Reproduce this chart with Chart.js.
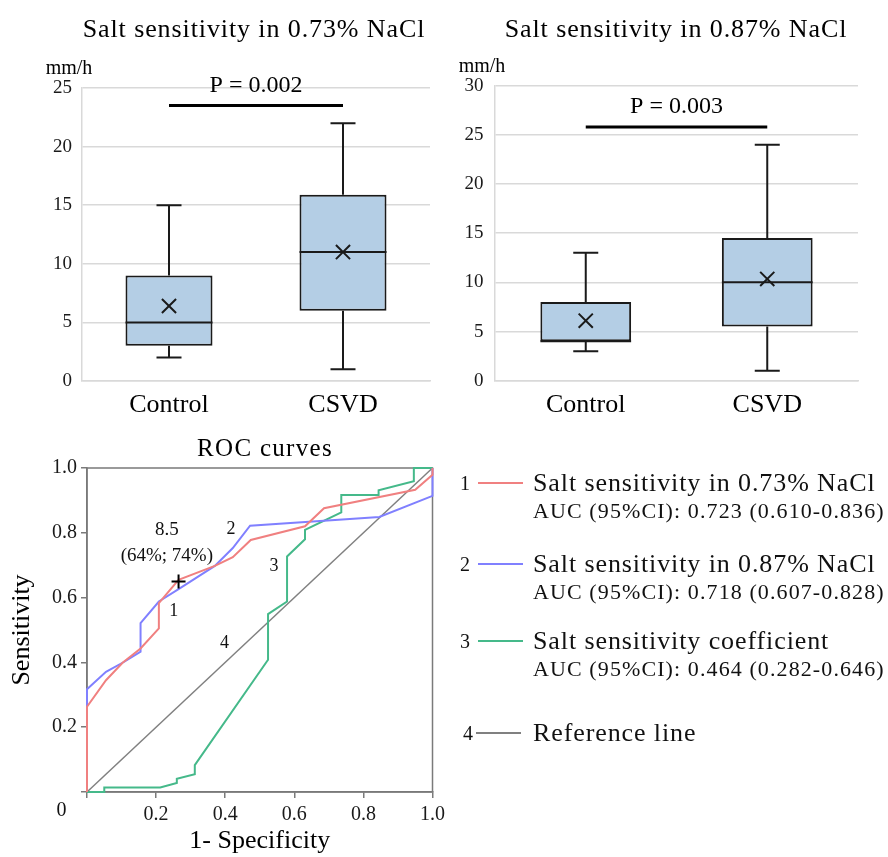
<!DOCTYPE html>
<html>
<head>
<meta charset="utf-8">
<title>Salt sensitivity and ROC curves</title>
<script src="https://cdn.jsdelivr.net/npm/chart.js@4.4.0/dist/chart.umd.min.js"></script>
<style>
  html, body { margin: 0; padding: 0; background: #fff; }
  body { width: 888px; height: 857px; position: relative; overflow: hidden;
         font-family: 'Liberation Serif', 'Times New Roman', serif; color: #111; }
  .panel { position: absolute; }
  .title { position: absolute; white-space: nowrap; line-height: 1; color: #000;
           transform: translateX(-50%); }
  #legend { position: absolute; left: 0; top: 0; width: 888px; height: 857px; pointer-events: none; }
  #legend .t { position: absolute; white-space: nowrap; line-height: 1; }
  #legend .sw { position: absolute; height: 2px; }
</style>
</head>
<body>
<div class="panel" style="left:0;top:0;width:444px;height:430px"><canvas id="box73"></canvas></div>
<div class="panel" style="left:444px;top:0;width:444px;height:430px"><canvas id="box87"></canvas></div>
<div class="panel" style="left:0;top:430px;width:450px;height:427px"><canvas id="roc"></canvas></div>
<div class="title" style="left:254px;top:16px;font-size:26px;letter-spacing:0.9px">Salt sensitivity in 0.73% NaCl</div>
<div class="title" style="left:676px;top:16px;font-size:26px;letter-spacing:0.9px">Salt sensitivity in 0.87% NaCl</div>
<div class="title" style="left:265px;top:435px;font-size:25px;letter-spacing:1.3px">ROC curves</div>
<div id="legend"></div>

<script>
// ─── Data ────────────────────────────────────────────────────────────────
const groups = ['Control', 'CSVD'];

// 0.73% NaCl (mm/h)
const nacl73Min    = [2, 1];
const nacl73Q1     = [3, 6];
const nacl73Median = [5, 11];
const nacl73Q3     = [9, 15.9];
const nacl73Max    = [15, 22];
const nacl73Mean   = [6.4, 11];
const nacl73Ticks  = [0, 5, 10, 15, 20, 25];
const nacl73PText  = 'P = 0.002';
const nacl73PLevel = 23.5;

// 0.87% NaCl (mm/h)
const nacl87Min    = [3, 1];
const nacl87Q1     = [4, 5.5];
const nacl87Median = [4, 10];
const nacl87Q3     = [8, 14.5];
const nacl87Max    = [13, 24];
const nacl87Mean   = [6.1, 10.35];
const nacl87Ticks  = [0, 5, 10, 15, 20, 25, 30];
const nacl87PText  = 'P = 0.003';
const nacl87PLevel = 25.8;

// ROC curves (1 - specificity, sensitivity)
const roc1X = [0, 0, 0.055, 0.103, 0.155, 0.208, 0.208, 0.265, 0.37, 0.422, 0.474, 0.631, 0.686, 0.95, 1, 1];
const roc1Y = [0, 0.263, 0.345, 0.399, 0.443, 0.505, 0.583, 0.655, 0.698, 0.725, 0.778, 0.82, 0.876, 0.933, 0.979, 1];
const roc2X = [0, 0, 0.055, 0.108, 0.155, 0.155, 0.208, 0.265, 0.37, 0.422, 0.472, 0.846, 1, 1];
const roc2Y = [0, 0.317, 0.371, 0.402, 0.433, 0.521, 0.588, 0.626, 0.698, 0.753, 0.822, 0.849, 0.914, 1];
const roc3X = [0, 0.05, 0.05, 0.212, 0.26, 0.26, 0.312, 0.312, 0.524, 0.524, 0.579, 0.579, 0.631, 0.631, 0.736, 0.736, 0.844, 0.844, 0.946, 0.946, 1];
const roc3Y = [0, 0, 0.014, 0.014, 0.028, 0.041, 0.055, 0.083, 0.408, 0.549, 0.588, 0.727, 0.78, 0.809, 0.863, 0.917, 0.917, 0.931, 0.959, 1, 1];
const refX  = [0, 1];
const refY  = [0, 1];
const rocTicks = [0, 0.2, 0.4, 0.6, 0.8, 1.0];

const cutX = [0.265];
const cutY = [0.65];
const cutValue = '8.5';
const cutText  = '(64%; 74%)';

const curveTags = ['1', '2', '3', '4'];
const curveTagX = [0.251, 0.417, 0.541, 0.398];
const curveTagY = [0.557, 0.811, 0.696, 0.459];

const curveNames = ['Salt sensitivity in 0.73% NaCl', 'Salt sensitivity in 0.87% NaCl', 'Salt sensitivity coefficient', 'Reference line'];
const curveAuc   = ['AUC (95%CI): 0.723 (0.610-0.836)', 'AUC (95%CI): 0.718 (0.607-0.828)', 'AUC (95%CI): 0.464 (0.282-0.646)', ''];

// ─── Styles ──────────────────────────────────────────────────────────────
const SERIF = "'Liberation Serif', 'Times New Roman', serif";
const INK = '#1a1a1a';
const GRID = '#d9d9d9';
const BOX_FILL = '#b4cee5';
const AXIS = '#7a7a7a';
const CURVE_COLORS = ['#f08080', '#8080ff', '#45b98a', '#808080'];

Chart.defaults.font.family = SERIF;
Chart.defaults.color = INK;
Chart.defaults.animation = false;

// ─── Box plot: whiskers, median, significance bar ────────────────────────
function boxExtras(s) {
  return {
    id: 'boxExtras',
    afterDatasetsDraw(chart) {
      const { ctx, chartArea, scales: { x, y } } = chart;
      const bars = chart.getDatasetMeta(0).data;
      const cap = 12.5;
      ctx.save();
      ctx.strokeStyle = INK;
      ctx.lineWidth = 2;
      ctx.beginPath();
      s.median.forEach((m, i) => {
        const cx = x.getPixelForValue(i);
        const half = bars[i].width / 2;
        const ym = y.getPixelForValue(m);
        ctx.moveTo(cx - half, ym); ctx.lineTo(cx + half, ym);
        const yq3 = y.getPixelForValue(s.q3[i]);
        const yMax = y.getPixelForValue(s.max[i]);
        ctx.moveTo(cx, yq3); ctx.lineTo(cx, yMax);
        ctx.moveTo(cx - cap, yMax); ctx.lineTo(cx + cap, yMax);
        const yq1 = y.getPixelForValue(s.q1[i]);
        const yMin = y.getPixelForValue(s.min[i]);
        ctx.moveTo(cx, yq1); ctx.lineTo(cx, yMin);
        ctx.moveTo(cx - cap, yMin); ctx.lineTo(cx + cap, yMin);
      });
      ctx.stroke();

      const x0 = x.getPixelForValue(0), x1 = x.getPixelForValue(1);
      const yP = y.getPixelForValue(s.pLevel);
      ctx.strokeStyle = '#000';
      ctx.lineWidth = 3;
      ctx.beginPath(); ctx.moveTo(x0, yP); ctx.lineTo(x1, yP); ctx.stroke();

      ctx.fillStyle = '#000';
      ctx.textAlign = 'center';
      ctx.textBaseline = 'middle';
      ctx.font = `24px ${SERIF}`;
      ctx.fillText(s.pText, (x0 + x1) / 2, yP - 20);
      ctx.font = `20px ${SERIF}`;
      ctx.fillText('mm/h', chartArea.left - 13, chartArea.top - 19);
      ctx.restore();
    },
  };
}

function makeBoxChart(id, s, geo) {
  const ticks = s.ticks;
  return new Chart(document.getElementById(id), {
    type: 'bar',
    data: {
      labels: groups,
      datasets: [
        {
          type: 'bar',
          data: s.q1.map((q, i) => [q, s.q3[i]]),
          backgroundColor: BOX_FILL,
          borderColor: INK,
          borderWidth: 2,
          borderSkipped: false,
          barPercentage: 0.5,
          categoryPercentage: 1,
          order: 1,
        },
        {
          type: 'line',
          data: s.mean,
          showLine: false,
          pointStyle: 'crossRot',
          pointRadius: 10,
          pointBorderWidth: 2,
          pointBorderColor: INK,
          pointBackgroundColor: INK,
          order: 0,
        },
      ],
    },
    plugins: [boxExtras(s)],
    options: {
      responsive: true,
      maintainAspectRatio: false,
      layout: { padding: { top: geo.top, right: geo.right, bottom: 0, left: 0 } },
      plugins: {
        legend: { display: false },
        tooltip: { enabled: false },
      },
      scales: {
        x: {
          grid: { display: false },
          border: { color: GRID, width: 1.5 },
          ticks: { color: '#000', font: { size: 26 }, padding: 1 },
          afterFit: (sc) => { sc.height = geo.xHeight; },
        },
        y: {
          min: ticks[0], max: ticks[ticks.length - 1],
          ticks: { stepSize: ticks[1] - ticks[0], color: INK, font: { size: 19 }, padding: geo.tickPad },
          grid: { color: GRID, lineWidth: 1.5, drawTicks: false },
          border: { color: GRID, width: 1.5 },
          afterFit: (sc) => { sc.width = geo.yWidth; },
        },
      },
    },
  });
}

makeBoxChart('box73', {
  min: nacl73Min, q1: nacl73Q1, median: nacl73Median, q3: nacl73Q3, max: nacl73Max,
  mean: nacl73Mean, ticks: nacl73Ticks, pText: nacl73PText, pLevel: nacl73PLevel,
}, { top: 88, right: 14, yWidth: 82, tickPad: 10, xHeight: 49 });

makeBoxChart('box87', {
  min: nacl87Min, q1: nacl87Q1, median: nacl87Median, q3: nacl87Q3, max: nacl87Max,
  mean: nacl87Mean, ticks: nacl87Ticks, pText: nacl87PText, pLevel: nacl87PLevel,
}, { top: 85.7, right: 30, yWidth: 51, tickPad: 11.5, xHeight: 49.3 });

// ─── ROC curves ──────────────────────────────────────────────────────────
const pts = (xs, ys) => xs.map((x, i) => ({ x, y: ys[i] }));

const rocExtras = {
  id: 'rocExtras',
  beforeDatasetsDraw(chart) {
    const { ctx, chartArea: a } = chart;
    ctx.save();
    ctx.strokeStyle = AXIS;
    ctx.lineWidth = 1.5;
    ctx.strokeRect(a.left, a.top, a.right - a.left, a.bottom - a.top);
    ctx.restore();
  },
  afterDatasetsDraw(chart) {
    const { ctx, chartArea: a, scales: { x, y } } = chart;
    ctx.save();
    ctx.fillStyle = '#111';
    ctx.textAlign = 'center';
    ctx.textBaseline = 'middle';
    ctx.font = `18px ${SERIF}`;
    curveTags.forEach((t, i) => {
      ctx.fillText(t, x.getPixelForValue(curveTagX[i]), y.getPixelForValue(curveTagY[i]));
    });
    ctx.font = `19px ${SERIF}`;
    ctx.fillText(cutValue, x.getPixelForValue(0.231), y.getPixelForValue(0.809));
    ctx.fillText(cutText, x.getPixelForValue(0.231), y.getPixelForValue(0.729));
    ctx.font = `20px ${SERIF}`;
    ctx.fillText('0', a.left - 25.5, a.bottom + 18.5);
    ctx.restore();
  },
};

const tickLabel = (v) => (v === 0 ? '' : Number(v).toFixed(1));
const curve = (xs, ys, i, w) => ({
  data: pts(xs, ys), showLine: true, borderColor: CURVE_COLORS[i], borderWidth: w,
  pointRadius: 0, tension: 0, clip: 3,
});

new Chart(document.getElementById('roc'), {
  type: 'scatter',
  data: {
    datasets: [
      { data: pts(cutX, cutY), showLine: false, pointStyle: 'cross', pointRadius: 7,
        pointBorderWidth: 2, pointBorderColor: '#000' },
      curve(roc1X, roc1Y, 0, 2),
      curve(roc2X, roc2Y, 1, 2),
      curve(roc3X, roc3Y, 2, 2),
      curve(refX, refY, 3, 1.5),
    ],
  },
  plugins: [rocExtras],
  options: {
    responsive: true,
    maintainAspectRatio: false,
    layout: { padding: { top: 38, right: 13, bottom: 0, left: 0 } },
    plugins: {
      legend: { display: false },
      tooltip: { enabled: false },
    },
    scales: {
      x: {
        type: 'linear', min: rocTicks[0], max: rocTicks[rocTicks.length - 1],
        ticks: { stepSize: rocTicks[1] - rocTicks[0], callback: tickLabel, color: INK, font: { size: 20 }, padding: 5 },
        grid: { drawOnChartArea: false, tickLength: 6, color: AXIS, lineWidth: 1.5 },
        border: { color: AXIS, width: 1.5 },
        title: { display: true, text: '1- Specificity', color: '#000', font: { size: 26 }, padding: { top: 0, bottom: 0 } },
        afterFit: (sc) => { sc.height = 65; },
      },
      y: {
        type: 'linear', min: rocTicks[0], max: rocTicks[rocTicks.length - 1],
        ticks: { stepSize: rocTicks[1] - rocTicks[0], callback: tickLabel, color: INK, font: { size: 20 }, padding: 4 },
        grid: { drawOnChartArea: false, tickLength: 6, color: AXIS, lineWidth: 1.5 },
        border: { color: AXIS, width: 1.5 },
        title: { display: true, text: 'Sensitivity', color: '#000', font: { size: 26 }, padding: { top: 7, bottom: 0 } },
        afterFit: (sc) => { sc.width = 87; },
      },
    },
  },
});

// ─── Legend (HTML) ───────────────────────────────────────────────────────
(function buildLegend() {
  const box = document.getElementById('legend');
  const nameY = [483, 564, 641, 733];
  const add = (cls, css, text) => {
    const el = document.createElement('div');
    el.className = cls;
    el.style.cssText = css;
    if (text) el.textContent = text;
    box.appendChild(el);
  };
  curveNames.forEach((name, i) => {
    const cy = nameY[i];
    add('t', `left:${i === 3 ? 463 : 460}px;top:${cy - 10}px;font-size:20px`, curveTags[i]);
    add('sw', `left:${i === 3 ? 476 : 478}px;top:${cy - 1}px;width:45px;background:${CURVE_COLORS[i]}`);
    add('t', `left:533px;top:${cy - 13}px;font-size:26px;letter-spacing:0.9px`, name);
    if (curveAuc[i]) {
      add('t', `left:533px;top:${cy + 28 - 11}px;font-size:22px;letter-spacing:1.1px`, curveAuc[i]);
    }
  });
})();
</script>
</body>
</html>
